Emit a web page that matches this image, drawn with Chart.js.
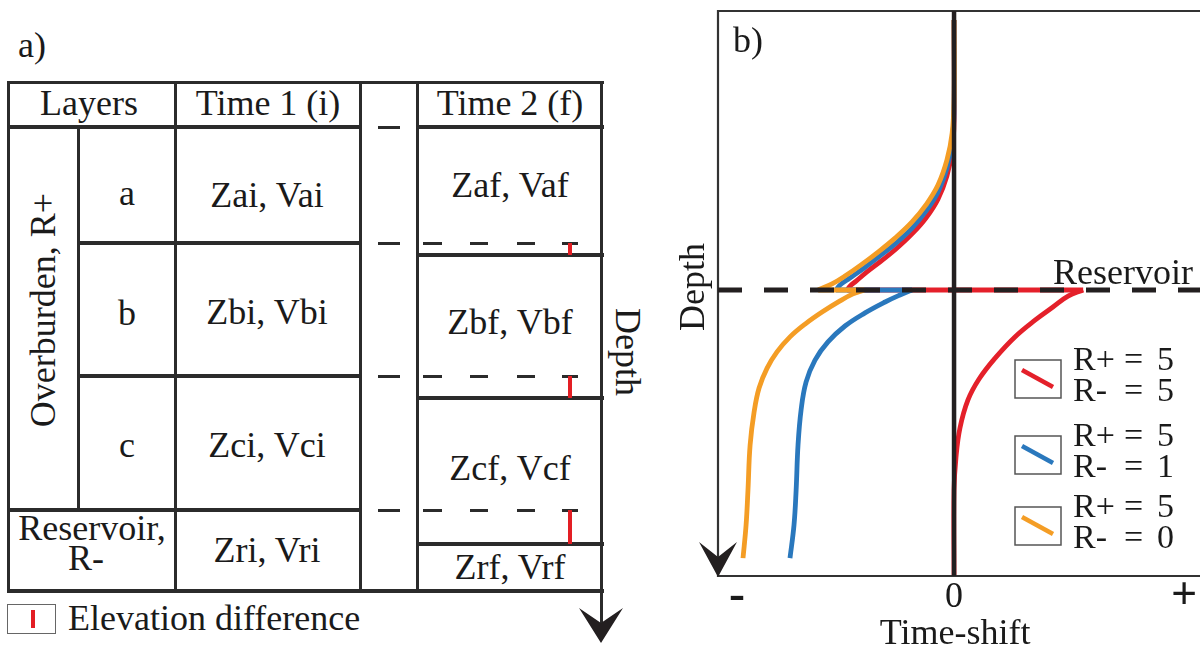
<!DOCTYPE html>
<html lang="en">
<head>
<meta charset="UTF-8">
<title>Layers and time-shift vs depth</title>
<style>
  body { margin: 0; background: #fff; font-family: "Liberation Serif", "Times New Roman", serif; }
  #page { position: relative; width: 1200px; height: 649px; overflow: hidden; }
  .ln { position: absolute; background: #2b2b2b; }
  .red { position: absolute; background: #e31e24; }
  .t { position: absolute; font-size: 36px; line-height: 36px; color: #1a1a1a; white-space: pre; transform: translate(-50%, -50%); }
  .tl { transform: translate(0, -50%); }
  .up { transform: translate(-50%, -50%) rotate(-90deg); }
  .down { transform: translate(-50%, -50%) rotate(90deg); }
  #chartBox { position: absolute; left: 660px; top: 0; width: 540px; height: 649px; }
</style>
<script src="https://cdn.jsdelivr.net/npm/chart.js"></script>
</head>
<body>
<div id="page">
  <div id="panelA"></div>
  <svg style="position:absolute;left:0;top:0" width="660" height="649">
    <polygon points="601,643 579,608 601,623 623,608" fill="#231f20"/>
  </svg>

  <div class="t tl" style="left:18px;top:45px">a)</div>
  <div class="t" style="left:89px;top:103px">Layers</div>
  <div class="t" style="left:268px;top:103px">Time 1 (i)</div>
  <div class="t" style="left:510px;top:103px">Time 2 (f)</div>
  <div class="t up" style="left:43px;top:310px">Overburden, R+</div>
  <div class="t" style="left:127px;top:193px">a</div>
  <div class="t" style="left:127px;top:313px">b</div>
  <div class="t" style="left:127px;top:445px">c</div>
  <div class="t" style="left:267px;top:195px">Zai, Vai</div>
  <div class="t" style="left:267px;top:312px">Zbi, Vbi</div>
  <div class="t" style="left:267px;top:445px">Zci, Vci</div>
  <div class="t" style="left:92px;top:528px">Reservoir,</div>
  <div class="t" style="left:86px;top:558px">R-</div>
  <div class="t" style="left:267px;top:550px">Zri, Vri</div>
  <div class="t" style="left:510px;top:185px">Zaf, Vaf</div>
  <div class="t" style="left:510px;top:322px">Zbf, Vbf</div>
  <div class="t" style="left:510px;top:468px">Zcf, Vcf</div>
  <div class="t" style="left:510px;top:567px">Zrf, Vrf</div>
  <div class="t down" style="left:628px;top:352px">Depth</div>
  <div style="position:absolute;left:7px;top:604px;width:47px;height:28px;border:1.5px solid #666"></div>
  <div class="red" style="left:31px;top:610px;width:4px;height:18px"></div>
  <div class="t tl" style="left:68px;top:618px">Elevation difference</div>

  <div id="chartBox"><canvas id="chart" width="540" height="649"></canvas></div>
</div>

<script>
// ---- panel b data (time-shift in relative units, depth with reservoir top = 1) ----
const rPlus = [5, 5, 5];
const rMinus = [5, 1, 0];
const seriesColors = ['#e4202a', '#2a78bd', '#f49d25'];

const reservoirDepth = 1.0;
const xMin = -1, xMax = 1.042, depthMax = 2.025;
const xTickValues = [-0.92, 0, 0.975];
const xTickLabels = ['-', '0', '+'];

// R+ = 5, R- = 5
const redUpperShift = [0, 0, -0.008, -0.030, -0.068, -0.119, -0.178, -0.246, -0.309, -0.369, -0.415, -0.441, -0.453];
const redUpperDepth = [0.032, 0.391, 0.498, 0.591, 0.674, 0.742, 0.799, 0.853, 0.896, 0.935, 0.968, 0.986, 1.0];
const redLowerShift = [0.547, 0.483, 0.419, 0.343, 0.258, 0.174, 0.106, 0.059, 0.025, 0.008, 0, 0];
const redLowerDepth = [1.0, 1.022, 1.061, 1.108, 1.168, 1.244, 1.319, 1.394, 1.495, 1.602, 1.717, 2.025];

// R+ = 5, R- = 1
const blueUpperShift = [0, 0, -0.008, -0.030, -0.068, -0.119, -0.178, -0.246, -0.314, -0.381, -0.441, -0.483, -0.500];
const blueUpperDepth = [0.032, 0.355, 0.466, 0.563, 0.649, 0.717, 0.778, 0.832, 0.878, 0.921, 0.957, 0.982, 1.0];
const blueLowerShift = [-0.178, -0.229, -0.292, -0.377, -0.462, -0.534, -0.589, -0.627, -0.648, -0.661, -0.669, -0.678, -0.695];
const blueLowerDepth = [1.0, 1.018, 1.043, 1.082, 1.129, 1.186, 1.251, 1.330, 1.430, 1.556, 1.717, 1.842, 1.961];

// R+ = 5, R- = 0
const orangeUpperShift = [0, 0, -0.008, -0.030, -0.068, -0.119, -0.178, -0.250, -0.322, -0.394, -0.462, -0.517, -0.576];
const orangeUpperDepth = [0.032, 0.319, 0.437, 0.534, 0.624, 0.695, 0.756, 0.814, 0.864, 0.910, 0.950, 0.978, 1.0];
const orangeLowerShift = [-0.381, -0.428, -0.483, -0.559, -0.631, -0.695, -0.750, -0.792, -0.826, -0.847, -0.864, -0.873, -0.881, -0.894];
const orangeLowerDepth = [1.0, 1.014, 1.039, 1.079, 1.122, 1.168, 1.222, 1.280, 1.351, 1.437, 1.556, 1.717, 1.842, 1.961];

// ---- panel a: table lines ----
const ink = '#231f20';
const panelA = document.getElementById('panelA');
function box(cls, x, y, w, h) {
  const d = document.createElement('div');
  d.className = cls;
  d.style.left = x + 'px'; d.style.top = y + 'px';
  d.style.width = w + 'px'; d.style.height = h + 'px';
  panelA.appendChild(d);
}
function hline(x1, x2, y, w) { box('ln', x1, y - w / 2, x2 - x1, w); }
function vline(x, y1, y2, w) { box('ln', x - w / 2, y1, w, y2 - y1); }

hline(6.5, 603.5, 82, 3);
hline(6.5, 360, 127, 4); hline(417, 603.5, 127, 4);
hline(78, 361.5, 243, 4); hline(78, 361.5, 376, 4); hline(6.5, 361.5, 510, 4);
hline(415.5, 603.5, 255, 4); hline(415.5, 603.5, 398, 4); hline(415.5, 603.5, 544, 4);
hline(6.5, 603.5, 591, 4);
vline(8, 82, 593, 3); vline(78, 127, 510, 3); vline(175, 82, 593, 3);
vline(360, 82, 593, 3); vline(417, 82, 593, 3); vline(601, 82, 625, 3);

// dashed marks at the time 1 layer tops, carried into time 2
hline(378, 400, 127, 3);
[243, 376, 510].forEach(y => {
  [[378, 400], [423, 442], [470, 488], [517, 535], [562, 578]].forEach(s => hline(s[0], s[1], y, 3));
});
// elevation differences
[[243, 255], [376, 398], [510, 544]].forEach(r => box('red', 568, r[0], 4, r[1] - r[0]));

// ---- panel b chart ----
function branch(shift, depth) { return shift.map((s, i) => ({x: s, y: depth[i]})); }
const curves = [
  [redUpperShift, redUpperDepth, redLowerShift, redLowerDepth],
  [blueUpperShift, blueUpperDepth, blueLowerShift, blueLowerDepth],
  [orangeUpperShift, orangeUpperDepth, orangeLowerShift, orangeLowerDepth]
];
const datasets = [];
curves.forEach((c, i) => {
  const up = branch(c[0], c[1]);
  const lo = branch(c[2], c[3]);
  const common = {
    borderColor: seriesColors[i], borderWidth: 4.8, pointRadius: 0,
    showLine: true, borderJoinStyle: 'round', order: 3 - i,
    label: 'R+ = ' + rPlus[i] + ', R- = ' + rMinus[i]
  };
  datasets.push(Object.assign({}, common, {data: up, tension: 0.4}));
  datasets.push(Object.assign({}, common, {data: [up[up.length - 1], lo[0]], tension: 0}));
  datasets.push(Object.assign({}, common, {data: lo, tension: 0.4}));
});

const serif = '"Liberation Serif", "Times New Roman", serif';
const overlay = {
  id: 'overlay',
  afterDatasetsDraw(chart) {
    const ctx = chart.ctx, a = chart.chartArea;
    const xs = chart.scales.x, ys = chart.scales.y;
    ctx.save();
    // frame
    ctx.strokeStyle = '#333';
    ctx.lineWidth = 2.2;
    ctx.beginPath();
    ctx.moveTo(a.right, a.top); ctx.lineTo(a.left, a.top);
    ctx.lineTo(a.left, a.bottom); ctx.lineTo(a.right, a.bottom);
    ctx.stroke();
    // zero line
    const x0 = xs.getPixelForValue(0);
    ctx.strokeStyle = ink; ctx.lineWidth = 4.5;
    ctx.beginPath(); ctx.moveTo(x0, a.top); ctx.lineTo(x0, a.bottom); ctx.stroke();
    // reservoir top
    const yr = ys.getPixelForValue(reservoirDepth);
    ctx.lineWidth = 5; ctx.setLineDash([24, 22]);
    ctx.beginPath(); ctx.moveTo(a.left, yr); ctx.lineTo(a.right, yr); ctx.stroke();
    ctx.setLineDash([]);
    // depth arrow
    ctx.fillStyle = ink;
    ctx.beginPath();
    ctx.moveTo(a.left, a.bottom + 1);
    ctx.lineTo(a.left - 19, a.bottom - 34);
    ctx.lineTo(a.left, a.bottom - 19);
    ctx.lineTo(a.left + 19, a.bottom - 34);
    ctx.closePath(); ctx.fill();
    // texts
    ctx.fillStyle = '#1a1a1a';
    ctx.font = '36px ' + serif;
    ctx.textBaseline = 'middle';
    ctx.textAlign = 'left';
    ctx.fillText('b)', 73, 43);
    ctx.fillText('Reservoir', 393, 275);
    ctx.textAlign = 'center';
    xTickValues.forEach((v, i) => {
      const lab = xTickLabels[i];
      ctx.font = lab === '-' ? 'bold 48px ' + serif : lab === '+' ? 'bold 46px ' + serif : '36px ' + serif;
      ctx.fillText(lab, xs.getPixelForValue(v), lab === '0' ? 598 : 597);
    });
    ctx.font = '36px ' + serif;
    ctx.fillText('Time-shift', x0 + 1, 635);
    ctx.save();
    ctx.translate(35, 287); ctx.rotate(-Math.PI / 2);
    ctx.fillText('Depth', 0, 0);
    ctx.restore();
    // legend
    const boxTops = [360, 436, 507];
    seriesColors.forEach((c, i) => {
      const bx = 355, by = boxTops[i];
      ctx.strokeStyle = '#555'; ctx.lineWidth = 1.5;
      ctx.strokeRect(bx, by, 46, 38);
      ctx.strokeStyle = c; ctx.lineWidth = 4.5;
      ctx.beginPath(); ctx.moveTo(bx + 7, by + 10); ctx.lineTo(bx + 38, by + 27); ctx.stroke();
      ctx.fillStyle = '#1a1a1a'; ctx.textAlign = 'left';
      ctx.font = '34px ' + serif;
      ctx.fillText('R+', 413, by + 1);
      ctx.fillText('=', 464, by + 1);
      ctx.fillText(String(rPlus[i]), 497, by + 1);
      ctx.fillText('R-', 413, by + 32);
      ctx.fillText('=', 464, by + 32);
      ctx.fillText(String(rMinus[i]), 497, by + 32);
    });
    ctx.restore();
  }
};

new Chart(document.getElementById('chart'), {
  type: 'scatter',
  data: {datasets: datasets},
  options: {
    responsive: false,
    animation: false,
    layout: {padding: {left: 58, top: 11, right: 0, bottom: 73}, autoPadding: false},
    plugins: {legend: {display: false}, tooltip: {enabled: false}},
    scales: {
      x: {type: 'linear', min: xMin, max: xMax, display: false},
      y: {type: 'linear', min: 0, max: depthMax, reverse: true, display: false}
    }
  },
  plugins: [overlay]
});
</script>
</body>
</html>
